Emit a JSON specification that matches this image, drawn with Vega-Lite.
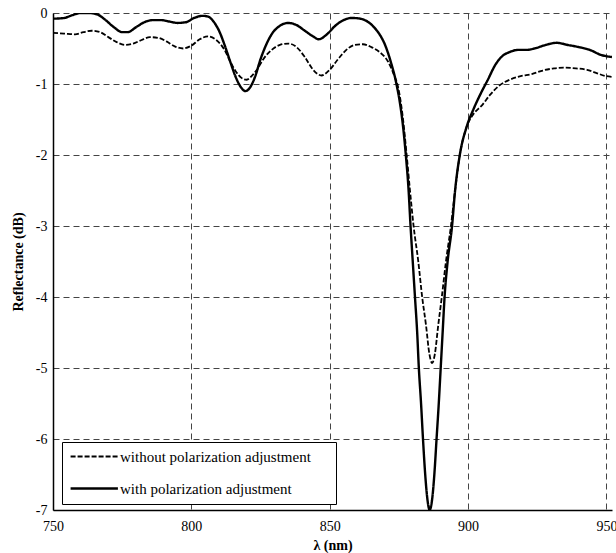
{
  "$schema": "https://vega.github.io/schema/vega-lite/v6.json",
  "autosize": "none",
  "width": 559,
  "height": 497,
  "padding": {"left": 53, "top": 13, "right": 4, "bottom": 43},
  "background": "white",
  "config": {
    "view": {"stroke": null},
    "font": "Liberation Serif",
    "axis": {
      "labelFont": "Liberation Serif",
      "titleFont": "Liberation Serif",
      "labelFontSize": 14,
      "titleFontSize": 14,
      "labelColor": "black",
      "titleColor": "black",
      "domainColor": "black",
      "domainWidth": 1.5,
      "ticks": false,
      "gridColor": "#444",
      "gridDash": [6, 4],
      "gridWidth": 1,
      "gridOpacity": 1
    }
  },
  "datasets": {
    "curves": [
      {"l": 750, "r": -0.08, "s": "with polarization adjustment"},
      {"l": 754, "r": -0.07, "s": "with polarization adjustment"},
      {"l": 757, "r": -0.03, "s": "with polarization adjustment"},
      {"l": 760, "r": 0.0, "s": "with polarization adjustment"},
      {"l": 763, "r": 0.0, "s": "with polarization adjustment"},
      {"l": 766, "r": -0.02, "s": "with polarization adjustment"},
      {"l": 769, "r": -0.1, "s": "with polarization adjustment"},
      {"l": 772, "r": -0.2, "s": "with polarization adjustment"},
      {"l": 775, "r": -0.27, "s": "with polarization adjustment"},
      {"l": 777, "r": -0.27, "s": "with polarization adjustment"},
      {"l": 780, "r": -0.2, "s": "with polarization adjustment"},
      {"l": 783, "r": -0.13, "s": "with polarization adjustment"},
      {"l": 786, "r": -0.1, "s": "with polarization adjustment"},
      {"l": 789, "r": -0.1, "s": "with polarization adjustment"},
      {"l": 792, "r": -0.12, "s": "with polarization adjustment"},
      {"l": 795, "r": -0.14, "s": "with polarization adjustment"},
      {"l": 798, "r": -0.13, "s": "with polarization adjustment"},
      {"l": 801, "r": -0.07, "s": "with polarization adjustment"},
      {"l": 804, "r": -0.04, "s": "with polarization adjustment"},
      {"l": 806, "r": -0.05, "s": "with polarization adjustment"},
      {"l": 808, "r": -0.12, "s": "with polarization adjustment"},
      {"l": 810, "r": -0.25, "s": "with polarization adjustment"},
      {"l": 812, "r": -0.45, "s": "with polarization adjustment"},
      {"l": 814, "r": -0.68, "s": "with polarization adjustment"},
      {"l": 816, "r": -0.9, "s": "with polarization adjustment"},
      {"l": 818, "r": -1.05, "s": "with polarization adjustment"},
      {"l": 819.5, "r": -1.1, "s": "with polarization adjustment"},
      {"l": 821, "r": -1.06, "s": "with polarization adjustment"},
      {"l": 823, "r": -0.9, "s": "with polarization adjustment"},
      {"l": 825, "r": -0.65, "s": "with polarization adjustment"},
      {"l": 827, "r": -0.45, "s": "with polarization adjustment"},
      {"l": 829, "r": -0.3, "s": "with polarization adjustment"},
      {"l": 832, "r": -0.18, "s": "with polarization adjustment"},
      {"l": 835, "r": -0.14, "s": "with polarization adjustment"},
      {"l": 838, "r": -0.17, "s": "with polarization adjustment"},
      {"l": 841, "r": -0.25, "s": "with polarization adjustment"},
      {"l": 844, "r": -0.33, "s": "with polarization adjustment"},
      {"l": 846, "r": -0.37, "s": "with polarization adjustment"},
      {"l": 849, "r": -0.3, "s": "with polarization adjustment"},
      {"l": 852, "r": -0.18, "s": "with polarization adjustment"},
      {"l": 855, "r": -0.1, "s": "with polarization adjustment"},
      {"l": 858, "r": -0.07, "s": "with polarization adjustment"},
      {"l": 861, "r": -0.08, "s": "with polarization adjustment"},
      {"l": 864, "r": -0.13, "s": "with polarization adjustment"},
      {"l": 866, "r": -0.2, "s": "with polarization adjustment"},
      {"l": 868, "r": -0.3, "s": "with polarization adjustment"},
      {"l": 870, "r": -0.45, "s": "with polarization adjustment"},
      {"l": 872, "r": -0.68, "s": "with polarization adjustment"},
      {"l": 874, "r": -0.98, "s": "with polarization adjustment"},
      {"l": 875.5, "r": -1.3, "s": "with polarization adjustment"},
      {"l": 876.5, "r": -1.6, "s": "with polarization adjustment"},
      {"l": 877.5, "r": -2.0, "s": "with polarization adjustment"},
      {"l": 878.5, "r": -2.5, "s": "with polarization adjustment"},
      {"l": 879.2, "r": -3.0, "s": "with polarization adjustment"},
      {"l": 880, "r": -3.5, "s": "with polarization adjustment"},
      {"l": 880.8, "r": -4.0, "s": "with polarization adjustment"},
      {"l": 881.6, "r": -4.5, "s": "with polarization adjustment"},
      {"l": 882.2, "r": -5.0, "s": "with polarization adjustment"},
      {"l": 883, "r": -5.5, "s": "with polarization adjustment"},
      {"l": 883.7, "r": -6.0, "s": "with polarization adjustment"},
      {"l": 884.5, "r": -6.5, "s": "with polarization adjustment"},
      {"l": 885.3, "r": -6.85, "s": "with polarization adjustment"},
      {"l": 886.1, "r": -7.0, "s": "with polarization adjustment"},
      {"l": 887, "r": -6.85, "s": "with polarization adjustment"},
      {"l": 887.8, "r": -6.5, "s": "with polarization adjustment"},
      {"l": 888.6, "r": -6.0, "s": "with polarization adjustment"},
      {"l": 889.4, "r": -5.5, "s": "with polarization adjustment"},
      {"l": 890.1, "r": -5.0, "s": "with polarization adjustment"},
      {"l": 890.8, "r": -4.5, "s": "with polarization adjustment"},
      {"l": 891.5, "r": -4.0, "s": "with polarization adjustment"},
      {"l": 892.6, "r": -3.5, "s": "with polarization adjustment"},
      {"l": 894.2, "r": -3.0, "s": "with polarization adjustment"},
      {"l": 895.3, "r": -2.5, "s": "with polarization adjustment"},
      {"l": 897, "r": -2.0, "s": "with polarization adjustment"},
      {"l": 899.5, "r": -1.6, "s": "with polarization adjustment"},
      {"l": 902, "r": -1.35, "s": "with polarization adjustment"},
      {"l": 905, "r": -1.1, "s": "with polarization adjustment"},
      {"l": 907, "r": -0.95, "s": "with polarization adjustment"},
      {"l": 910, "r": -0.72, "s": "with polarization adjustment"},
      {"l": 912, "r": -0.62, "s": "with polarization adjustment"},
      {"l": 915, "r": -0.55, "s": "with polarization adjustment"},
      {"l": 918, "r": -0.52, "s": "with polarization adjustment"},
      {"l": 921, "r": -0.52, "s": "with polarization adjustment"},
      {"l": 924, "r": -0.5, "s": "with polarization adjustment"},
      {"l": 928, "r": -0.45, "s": "with polarization adjustment"},
      {"l": 932, "r": -0.42, "s": "with polarization adjustment"},
      {"l": 936, "r": -0.45, "s": "with polarization adjustment"},
      {"l": 940, "r": -0.48, "s": "with polarization adjustment"},
      {"l": 944, "r": -0.52, "s": "with polarization adjustment"},
      {"l": 948, "r": -0.59, "s": "with polarization adjustment"},
      {"l": 952, "r": -0.62, "s": "with polarization adjustment"},
      {"l": 750, "r": -0.28, "s": "without polarization adjustment"},
      {"l": 754, "r": -0.29, "s": "without polarization adjustment"},
      {"l": 758, "r": -0.3, "s": "without polarization adjustment"},
      {"l": 761, "r": -0.27, "s": "without polarization adjustment"},
      {"l": 764, "r": -0.25, "s": "without polarization adjustment"},
      {"l": 767, "r": -0.27, "s": "without polarization adjustment"},
      {"l": 770, "r": -0.34, "s": "without polarization adjustment"},
      {"l": 773, "r": -0.41, "s": "without polarization adjustment"},
      {"l": 776, "r": -0.45, "s": "without polarization adjustment"},
      {"l": 779, "r": -0.43, "s": "without polarization adjustment"},
      {"l": 782, "r": -0.38, "s": "without polarization adjustment"},
      {"l": 785, "r": -0.34, "s": "without polarization adjustment"},
      {"l": 788, "r": -0.35, "s": "without polarization adjustment"},
      {"l": 791, "r": -0.4, "s": "without polarization adjustment"},
      {"l": 794, "r": -0.47, "s": "without polarization adjustment"},
      {"l": 797, "r": -0.5, "s": "without polarization adjustment"},
      {"l": 800, "r": -0.46, "s": "without polarization adjustment"},
      {"l": 803, "r": -0.37, "s": "without polarization adjustment"},
      {"l": 806, "r": -0.33, "s": "without polarization adjustment"},
      {"l": 809, "r": -0.38, "s": "without polarization adjustment"},
      {"l": 812, "r": -0.52, "s": "without polarization adjustment"},
      {"l": 814, "r": -0.68, "s": "without polarization adjustment"},
      {"l": 816, "r": -0.82, "s": "without polarization adjustment"},
      {"l": 818, "r": -0.91, "s": "without polarization adjustment"},
      {"l": 820, "r": -0.94, "s": "without polarization adjustment"},
      {"l": 822, "r": -0.88, "s": "without polarization adjustment"},
      {"l": 824, "r": -0.78, "s": "without polarization adjustment"},
      {"l": 826, "r": -0.65, "s": "without polarization adjustment"},
      {"l": 829, "r": -0.52, "s": "without polarization adjustment"},
      {"l": 832, "r": -0.45, "s": "without polarization adjustment"},
      {"l": 835, "r": -0.43, "s": "without polarization adjustment"},
      {"l": 838, "r": -0.48, "s": "without polarization adjustment"},
      {"l": 841, "r": -0.62, "s": "without polarization adjustment"},
      {"l": 844, "r": -0.8, "s": "without polarization adjustment"},
      {"l": 847, "r": -0.88, "s": "without polarization adjustment"},
      {"l": 850, "r": -0.8, "s": "without polarization adjustment"},
      {"l": 853, "r": -0.65, "s": "without polarization adjustment"},
      {"l": 856, "r": -0.52, "s": "without polarization adjustment"},
      {"l": 859, "r": -0.45, "s": "without polarization adjustment"},
      {"l": 862, "r": -0.44, "s": "without polarization adjustment"},
      {"l": 865, "r": -0.48, "s": "without polarization adjustment"},
      {"l": 868, "r": -0.55, "s": "without polarization adjustment"},
      {"l": 871, "r": -0.68, "s": "without polarization adjustment"},
      {"l": 873, "r": -0.85, "s": "without polarization adjustment"},
      {"l": 875, "r": -1.1, "s": "without polarization adjustment"},
      {"l": 876.5, "r": -1.5, "s": "without polarization adjustment"},
      {"l": 877.8, "r": -2.0, "s": "without polarization adjustment"},
      {"l": 879, "r": -2.5, "s": "without polarization adjustment"},
      {"l": 880.3, "r": -3.0, "s": "without polarization adjustment"},
      {"l": 882, "r": -3.5, "s": "without polarization adjustment"},
      {"l": 883.4, "r": -4.0, "s": "without polarization adjustment"},
      {"l": 884.8, "r": -4.4, "s": "without polarization adjustment"},
      {"l": 886, "r": -4.8, "s": "without polarization adjustment"},
      {"l": 887, "r": -4.93, "s": "without polarization adjustment"},
      {"l": 888, "r": -4.8, "s": "without polarization adjustment"},
      {"l": 889.2, "r": -4.4, "s": "without polarization adjustment"},
      {"l": 890.5, "r": -4.0, "s": "without polarization adjustment"},
      {"l": 892, "r": -3.5, "s": "without polarization adjustment"},
      {"l": 893.8, "r": -3.0, "s": "without polarization adjustment"},
      {"l": 895.3, "r": -2.5, "s": "without polarization adjustment"},
      {"l": 897, "r": -2.0, "s": "without polarization adjustment"},
      {"l": 899.5, "r": -1.6, "s": "without polarization adjustment"},
      {"l": 902, "r": -1.42, "s": "without polarization adjustment"},
      {"l": 905, "r": -1.3, "s": "without polarization adjustment"},
      {"l": 908, "r": -1.15, "s": "without polarization adjustment"},
      {"l": 911, "r": -1.03, "s": "without polarization adjustment"},
      {"l": 915, "r": -0.94, "s": "without polarization adjustment"},
      {"l": 919, "r": -0.89, "s": "without polarization adjustment"},
      {"l": 923, "r": -0.86, "s": "without polarization adjustment"},
      {"l": 927, "r": -0.81, "s": "without polarization adjustment"},
      {"l": 931, "r": -0.78, "s": "without polarization adjustment"},
      {"l": 935, "r": -0.77, "s": "without polarization adjustment"},
      {"l": 939, "r": -0.78, "s": "without polarization adjustment"},
      {"l": 943, "r": -0.8, "s": "without polarization adjustment"},
      {"l": 946, "r": -0.84, "s": "without polarization adjustment"},
      {"l": 950, "r": -0.89, "s": "without polarization adjustment"},
      {"l": 952, "r": -0.9, "s": "without polarization adjustment"}
    ]
  },
  "data": {"name": "curves"},
  "mark": {"type": "line", "color": "black", "interpolate": "monotone", "clip": true},
  "encoding": {
    "x": {
      "field": "l",
      "type": "quantitative",
      "scale": {"domain": [750, 952], "nice": false, "zero": false},
      "axis": {
        "title": "λ (nm)",
        "values": [750, 800, 850, 900, 950],
        "grid": true,
        "labelPadding": 9,
        "titlePadding": 5,
        "labelFlush": false,
        "labelOverlap": false
      }
    },
    "y": {
      "field": "r",
      "type": "quantitative",
      "scale": {"domain": [-7, 0], "nice": false, "zero": false},
      "axis": {
        "title": "Reflectance (dB)",
        "values": [-7, -6, -5, -4, -3, -2, -1, 0],
        "labelExpr": "datum.value == 0 ? '0' : '-' + abs(datum.value)",
        "grid": true,
        "labelPadding": 6,
        "titlePadding": 10,
        "labelFlush": false,
        "labelOverlap": false
      }
    },
    "strokeDash": {
      "field": "s",
      "type": "nominal",
      "scale": {
        "domain": ["without polarization adjustment", "with polarization adjustment"],
        "range": [[5, 2], [1, 0]]
      },
      "legend": {
        "title": "M",
        "titleOrient": "right",
        "titleOpacity": 0,
        "titleFontSize": 15,
        "titlePadding": 3,
        "orient": "none",
        "legendX": 9,
        "legendY": 429,
        "symbolType": "M-1,0H7",
        "symbolSize": 140,
        "symbolFillColor": "transparent",
        "symbolStrokeColor": "black",
        "symbolStrokeWidth": 2,
        "labelFont": "Liberation Serif",
        "labelFontSize": 15,
        "labelColor": "black",
        "labelLimit": 400,
        "labelOffset": 36,
        "rowPadding": 16,
        "padding": 7,
        "strokeColor": "black",
        "fillColor": "white",
        "cornerRadius": 0
      }
    },
    "strokeWidth": {
      "field": "s",
      "type": "nominal",
      "scale": {
        "domain": ["without polarization adjustment", "with polarization adjustment"],
        "range": [1.8, 2.4]
      },
      "legend": null
    }
  }
}
